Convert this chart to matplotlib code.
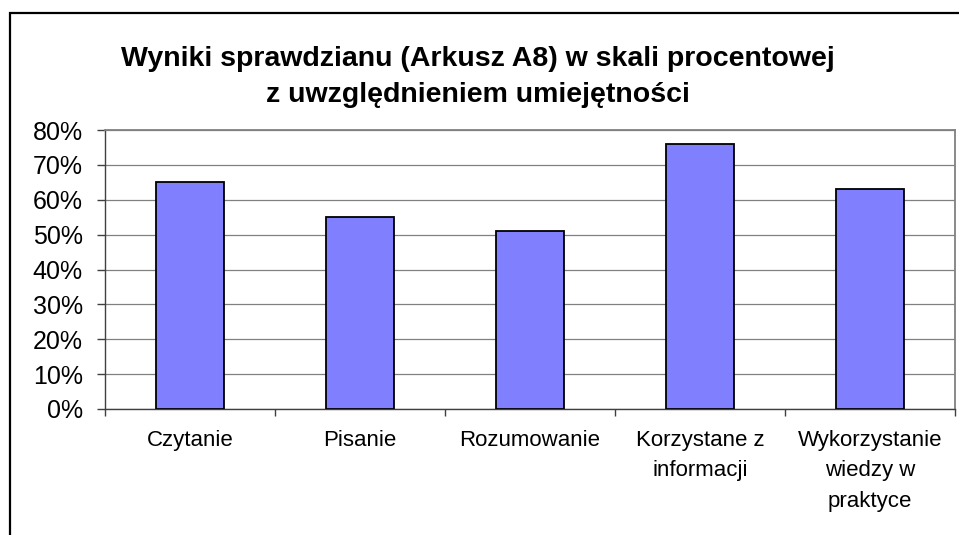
import matplotlib
matplotlib.use("Agg")
from matplotlib import pyplot as plt
from matplotlib.patches import Rectangle

categories = ["Czytanie", "Pisanie", "Rozumowanie", "Korzystane z\ninformacji",
              "Wykorzystanie\nwiedzy w\npraktyce"]
values = [65, 55, 51, 76, 63]
yticks = [0, 10, 20, 30, 40, 50, 60, 70, 80]

plt.rcParams['font.family'] = ['Liberation Sans', 'DejaVu Sans']

W, H = 959, 535
fig = plt.figure(figsize=(W / 100, H / 100), dpi=100)
ax = fig.add_axes([105 / W, (H - 409) / H, 850 / W, 279 / H])

x = list(range(len(categories)))
ax.bar(x, values, width=0.4, color="#8080FF", edgecolor="black", linewidth=1.3, zorder=3)

ax.set_xlim(-0.5, len(categories) - 0.5)
ax.set_ylim(0, 80)
ax.set_yticks(yticks)
ax.set_yticklabels([f"{v}%" for v in yticks], fontsize=18)
ax.yaxis.grid(True, color="#808080", linewidth=0.9, zorder=0)

ax.set_xticks(x)
ax.set_xticklabels(categories, fontsize=16, linespacing=1.6, va="top")
ax.set_xticks([i - 0.5 for i in range(len(categories) + 1)], minor=True)
ax.tick_params(axis="x", which="major", length=0, pad=15)
ax.tick_params(axis="x", which="minor", length=5, width=1, color="#404040", direction="out")
ax.tick_params(axis="y", length=6, width=1, color="#404040", pad=10)

for side in ["left", "bottom"]:
    ax.spines[side].set_color("#404040")
    ax.spines[side].set_linewidth(1.0)
for side in ["top", "right"]:
    ax.spines[side].set_color("#808080")
    ax.spines[side].set_linewidth(1.3)

fig.text(478 / W, 1 - 77 / H,
         "Wyniki sprawdzianu (Arkusz A8) w skali procentowej\nz uwzględnieniem umiejętności",
         ha="center", va="center", fontsize=20.5, fontweight="bold", linespacing=1.55)

fig.patches.append(Rectangle((10 / W, -0.1), 1.2, (H - 13) / H + 0.1, transform=fig.transFigure,
                             fill=False, edgecolor="black", linewidth=1.6))

fig.savefig("out.png", dpi=100)
